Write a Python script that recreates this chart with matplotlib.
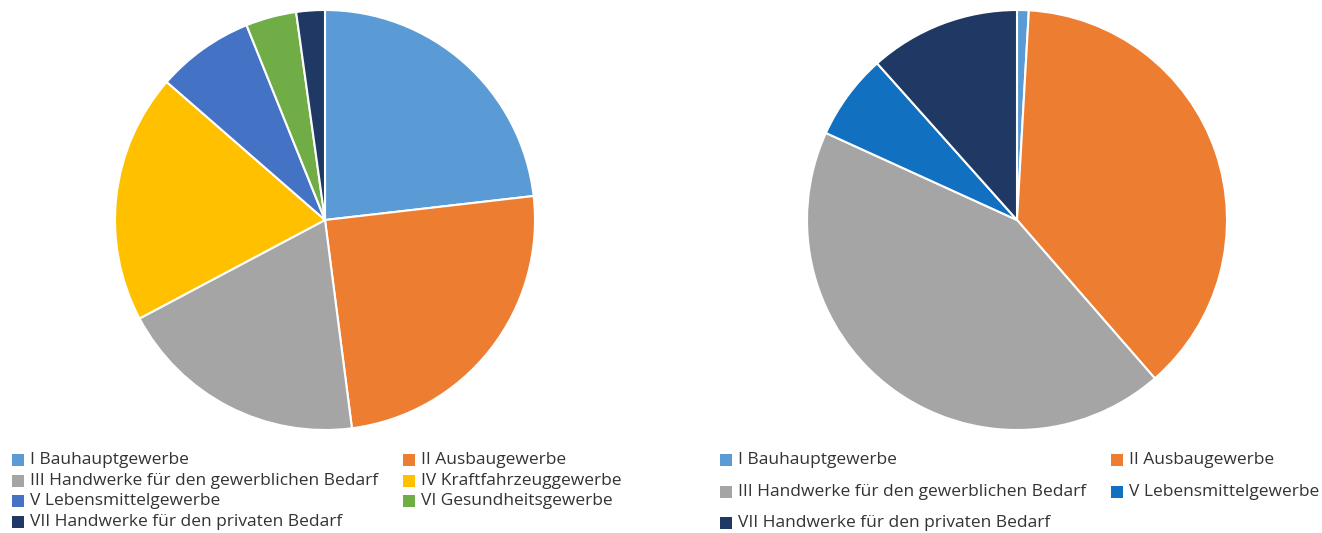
import matplotlib.pyplot as plt
from matplotlib.patches import Rectangle

plt.rcParams['font.family'] = ['Open Sans', 'DejaVu Sans']

# Left pie
left_labels = ['I Bauhauptgewerbe', 'II Ausbaugewerbe', 'III Handwerke für den gewerblichen Bedarf',
               'IV Kraftfahrzeuggewerbe', 'V Lebensmittelgewerbe', 'VI Gesundheitsgewerbe',
               'VII Handwerke für den privaten Bedarf']
left_values = [23.2, 24.8, 19.3, 19.2, 7.5, 3.9, 2.2]
left_colors = ['#5B9BD5', '#ED7D31', '#A5A5A5', '#FFC000', '#4472C4', '#70AD47', '#203864']

# Right pie
right_labels = ['I Bauhauptgewerbe', 'II Ausbaugewerbe', 'III Handwerke für den gewerblichen Bedarf',
                'V Lebensmittelgewerbe', 'VII Handwerke für den privaten Bedarf']
right_values = [0.9, 37.7, 43.2, 6.6, 11.6]
right_colors = ['#5B9BD5', '#ED7D31', '#A5A5A5', '#1170BF', '#203864']

W, H = 1322, 533
fig = plt.figure(figsize=(W / 100, H / 100), dpi=100)


def px_axes(cx, cy, r):
    return fig.add_axes([(cx - r) / W, (H - cy - r) / H, 2 * r / W, 2 * r / H])


def draw_pie(ax, values, colors):
    ax.pie(values, colors=colors, startangle=90, counterclock=False,
           wedgeprops=dict(edgecolor='white', linewidth=1.5))
    ax.set_xlim(-1.0, 1.0)
    ax.set_ylim(-1.0, 1.0)
    ax.set_aspect('equal')
    ax.axis('off')


draw_pie(px_axes(325, 220, 210), left_values, left_colors)
draw_pie(px_axes(1017, 220, 210), right_values, right_colors)


def legend(labels, colors, xs, ys):
    for i, (lab, col) in enumerate(zip(labels, colors)):
        x = xs[i % 2]
        y = ys[i // 2]
        fig.patches.append(Rectangle((x / W, (H - y - 6) / H), 12 / W, 12 / H,
                                     transform=fig.transFigure, facecolor=col,
                                     edgecolor='none'))
        fig.text((x + 18) / W, (H - y) / H, lab, fontsize=12.5, color='#333333',
                 va='center', ha='left')


legend(left_labels, left_colors, [12, 403], [460, 481, 501, 522])
legend(right_labels, right_colors, [720, 1111], [460, 492, 523])

fig.savefig('out.png', dpi=100)
